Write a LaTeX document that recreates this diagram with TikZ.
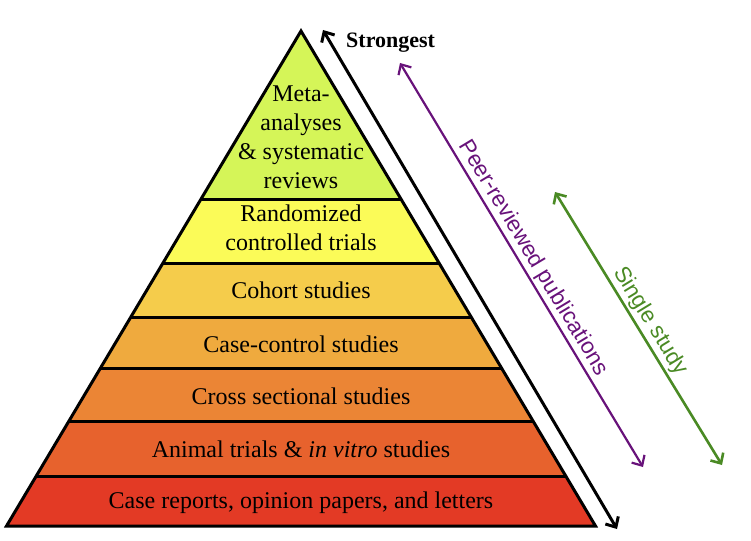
\documentclass[tikz,border=0pt]{standalone}
\usepackage{fontspec}
\setmainfont{Liberation Serif}
\setsansfont{Liberation Sans}
\usetikzlibrary{arrows.meta,calc}
\definecolor{cMeta}{RGB}{213,245,88}
\definecolor{cRCT}{RGB}{251,251,88}
\definecolor{cCoh}{RGB}{245,204,75}
\definecolor{cCC}{RGB}{239,170,62}
\definecolor{cCS}{RGB}{235,133,53}
\definecolor{cAni}{RGB}{231,98,45}
\definecolor{cCase}{RGB}{227,58,37}
\definecolor{cPurple}{RGB}{104,18,122}
\definecolor{cGreen}{RGB}{74,138,36}
\tikzset{
  bandline/.style={line width=3pt, black},
  lvl/.style={font=\fontsize{24}{29}\selectfont, inner sep=0pt, align=center},
  lvlbase/.style={lvl, anchor=base},
  twoheads/.style={{Straight Barb[length=8pt,width=15pt]}-{Straight Barb[length=8pt,width=15pt]}},
  sidelabel/.style={sloped, above, inner sep=2pt, font=\sffamily\fontsize{22.5}{27}\selectfont}
}
\begin{document}
\begin{tikzpicture}[x=1pt,y=-1pt]
\useasboundingbox (0,0) rectangle (751,540);
% pyramid corners
\coordinate (A) at (301,31);
\coordinate (BL) at (6.5,526);
\coordinate (BR) at (595.5,526);
% band boundaries (fractions of height)
\foreach \n/\t in {1/0.3414,2/0.4687,3/0.5778,4/0.6828,5/0.7879,6/0.8990}{
  \coordinate (L\n) at ($(A)!\t!(BL)$);
  \coordinate (R\n) at ($(A)!\t!(BR)$);
}
\fill[cMeta] (A) -- (L1) -- (R1) -- cycle;
\fill[cRCT] (L1) -- (L2) -- (R2) -- (R1) -- cycle;
\fill[cCoh] (L2) -- (L3) -- (R3) -- (R2) -- cycle;
\fill[cCC] (L3) -- (L4) -- (R4) -- (R3) -- cycle;
\fill[cCS] (L4) -- (L5) -- (R5) -- (R4) -- cycle;
\fill[cAni] (L5) -- (L6) -- (R6) -- (R5) -- cycle;
\fill[cCase] (L6) -- (BL) -- (BR) -- (R6) -- cycle;
\foreach \n in {1,...,6}{ \draw[bandline] (L\n) -- (R\n); }
\draw[bandline, line join=miter] (A) -- (BL) -- (BR) -- cycle;
% level labels
\node[lvl] (meta) at (301,137) {Meta-\\analyses\\\& systematic\\reviews};
\node[lvl] (rct) at (301,228) {Randomized\\controlled trials};
\node[lvlbase] (coh) at (301,298) {Cohort studies};
\node[lvlbase] (cc) at (301,352) {Case-control studies};
\node[lvlbase] (cs) at (301,404) {Cross sectional studies};
\node[lvlbase] (ani) at (301,457) {Animal trials \& \textit{in vitro} studies};
\node[lvlbase] (case) at (301,508) {Case reports, opinion papers, and letters};
% strength arrow
\coordinate (s1) at (323,30);
\coordinate (s2) at (617,529);
\draw[twoheads, line width=3pt, black] (s1) -- (s2);
\node[font=\bfseries\fontsize{22}{26}\selectfont, anchor=base west, inner sep=0pt] (strong) at (346,48) {Strongest};
% peer-reviewed arrow
\coordinate (p1) at (400,63);
\coordinate (p2) at (643,467);
\draw[twoheads, line width=2.2pt, cPurple] (p1) -- node[sidelabel, text=cPurple] (peer) {Peer-reviewed publications} (p2);
% single study arrow
\coordinate (g1) at (555,192);
\coordinate (g2) at (722,465);
\draw[twoheads, line width=2.6pt, cGreen] (g1) -- node[sidelabel, text=cGreen] (single) {Single study} (g2);
\end{tikzpicture}
\end{document}
